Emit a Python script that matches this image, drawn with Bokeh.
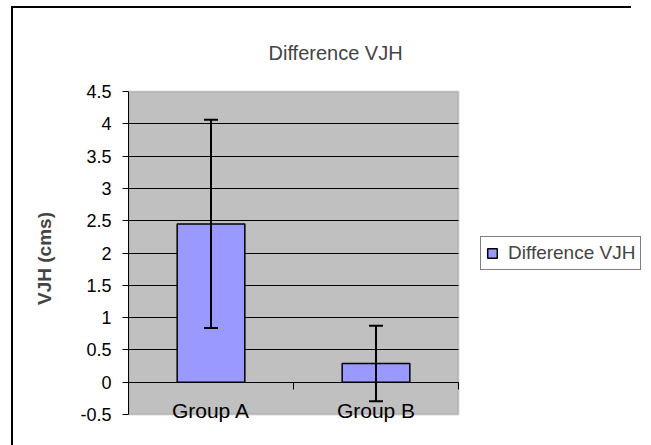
from bokeh.plotting import figure
from bokeh.models import (ColumnDataSource, FixedTicker, Whisker, TeeHead, Legend,
                          LegendItem, BoxAnnotation, Range1d)
from bokeh.embed import file_html
from bokeh.resources import INLINE

# ---- data ----
groups = ["Group A", "Group B"]
means = [2.45, 0.29]
errors = [1.61, 0.585]
series_name = "Difference VJH"
y_ticks = [-0.5, 0, 0.5, 1, 1.5, 2, 2.5, 3, 3.5, 4, 4.5]
y_tick_labels = ["-0.5", "0", "0.5", "1", "1.5", "2", "2.5", "3", "3.5", "4", "4.5"]

FONT = "Liberation Sans"

xs = [i + 0.5 for i in range(len(groups))]
source = ColumnDataSource(dict(
    x=xs, top=means,
    upper=[m + e for m, e in zip(means, errors)],
    lower=[m - e for m, e in zip(means, errors)],
))

n = len(groups)
y_lo, y_hi = y_ticks[0], y_ticks[-1]

# frame spans to the right edge of the canvas so the legend (drawn in the frame) is not clipped;
# the grey plot area itself is the box [0, n] x [y_lo, y_hi]
W, H = 651, 445
left_b, top_b, bottom_b = 128, 89, 18
px_per_cat = 165.0
x_end = (W - left_b) / px_per_cat

p = figure(width=W, height=H, output_backend="svg", toolbar_location=None,
           x_range=Range1d(0, x_end), y_range=Range1d(y_lo - 0.2, y_hi + 0.03),
           min_border_left=left_b, min_border_right=0, min_border_top=top_b,
           min_border_bottom=bottom_b)

p.background_fill_color = "white"
p.border_fill_alpha = 0
p.outline_line_color = None
# chart-area border (top and left edges; it runs off the window on the right and bottom)
p.styles = {
    "background-image": "linear-gradient(#000,#000), linear-gradient(#000,#000)",
    "background-size": "2px 439px, 620px 2px",
    "background-position": "11px 6px, 11px 6px",
    "background-repeat": "no-repeat",
    "background-color": "white",
}

# plot area
plot_area = BoxAnnotation(left=0, right=n, bottom=y_lo, top=y_hi,
                          fill_color="#C0C0C0", fill_alpha=1,
                          line_color="#808080", line_width=2, level="image")
p.add_layout(plot_area)

# title
p.title.text = "Difference VJH"
p.title.align = "left"
p.title.offset = 140
p.title.standoff = 52
p.title.text_font = FONT
p.title.text_font_size = "20px"
p.title.text_font_style = "normal"

# bars
bars = p.vbar(x="x", top="top", bottom=0, width=0.41, source=source,
              fill_color="#9999FF", line_color="black", line_width=1.5)

# error bars
wh = Whisker(base="x", upper="upper", lower="lower", source=source,
             line_color="black", line_width=2, level="annotation",
             upper_head=TeeHead(size=14, line_width=2, line_color="black"),
             lower_head=TeeHead(size=14, line_width=2, line_color="black"))
p.add_layout(wh)

# grid
p.xgrid.visible = False
p.ygrid.ticker = FixedTicker(ticks=[t for t in y_ticks if y_lo < t < y_hi])
p.ygrid.grid_line_color = "black"
p.ygrid.grid_line_width = 1
p.ygrid.cross_bounds = (0, n)

# y axis
ya = p.yaxis[0]
ya.ticker = FixedTicker(ticks=y_ticks)
ya.bounds = (y_lo, y_hi)
ya.major_label_overrides = {t: l for t, l in zip(y_ticks, y_tick_labels)}
ya.axis_line_color = "black"
ya.major_tick_line_color = "black"
ya.major_tick_out = 6
ya.major_tick_in = 0
ya.minor_tick_line_color = None
ya.major_label_standoff = 11
ya.major_label_text_font = FONT
ya.major_label_text_font_size = "18px"
ya.major_label_text_color = "black"
ya.axis_label = "VJH (cms)"
ya.axis_label_text_font = FONT
ya.axis_label_text_font_style = "bold"
ya.axis_label_text_font_size = "19px"
ya.axis_label_standoff = 22

# x axis (crosses at zero)
xa = p.xaxis[0]
xa.fixed_location = 0
xa.bounds = (0, n)
xa.ticker = FixedTicker(ticks=xs, minor_ticks=list(range(n + 1)))
xa.major_label_overrides = {x: g for x, g in zip(xs, groups)}
xa.axis_line_color = "black"
xa.major_tick_line_color = None
xa.major_tick_out = 0
xa.major_tick_in = 0
xa.minor_tick_line_color = "black"
xa.minor_tick_out = 7
xa.minor_tick_in = 0
xa.major_label_standoff = 10
xa.major_label_text_font = FONT
xa.major_label_text_font_size = "21px"
xa.major_label_text_color = "black"

# legend
legend = Legend(items=[LegendItem(label=series_name, renderers=[bars])],
                location=(352, 157), margin=0, padding=5, spacing=0,
                glyph_width=12, glyph_height=12, label_standoff=10,
                label_text_font=FONT, label_text_font_size="19px",
                border_line_color="black", border_line_width=1,
                background_fill_color="white", background_fill_alpha=1)
p.add_layout(legend)

open("out.html", "w").write(file_html(p, INLINE))
